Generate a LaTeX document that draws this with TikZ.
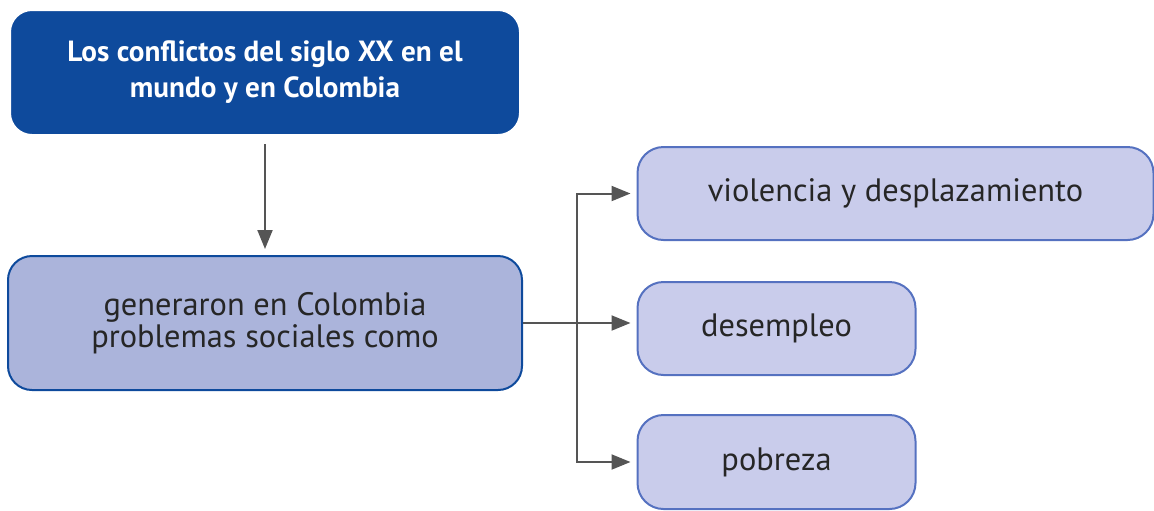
\documentclass[tikz,border=0pt]{standalone}
\usepackage{fontspec}
\setmainfont{PT Sans}
\usetikzlibrary{arrows.meta}

\definecolor{titleblue}{HTML}{0E4A9C}
\definecolor{midblue}{HTML}{ABB4DB}
\definecolor{lightblue}{HTML}{C9CCEB}
\definecolor{rimblue}{HTML}{5571C0}
\definecolor{linegray}{HTML}{555555}

\tikzset{
    titlebox/.style={draw=white,line width=1pt,fill=titleblue,rounded corners=11pt,
        text=white,font=\fontsize{14.6}{18}\selectfont\bfseries,align=center},
    mainbox/.style={draw=titleblue,line width=1pt,fill=midblue,rounded corners=12pt,
        text=black!85,font=\fontsize{16.2}{16}\selectfont,align=center},
    itembox/.style={draw=rimblue,line width=1pt,fill=lightblue,rounded corners=13pt,
        text=black!85,font=\fontsize{16.2}{18}\selectfont},
    link/.style={draw=linegray,line width=1pt,shorten >=3pt,
        -{Triangle[length=9.5pt,width=7.5pt]}}
}

\begin{document}
\begin{tikzpicture}[x=0.5pt,y=-0.5pt]
        \useasboundingbox (0,0) rectangle (1154,510);

        \node[titlebox,minimum width=255pt,minimum height=62.5pt] (T) at (265,72.5)
            {Los conflictos del siglo XX en el\\mundo y en Colombia};
        \node[mainbox,minimum width=257pt,minimum height=67pt] (G) at (265,323)
            {generaron en Colombia\\problemas sociales como};

        \node[itembox,minimum width=258pt,minimum height=46.5pt] (V) at (895.5,193.5)
            {violencia y desplazamiento};
        \node[itembox,minimum width=139pt,minimum height=46.5pt] (D) at (776.5,328.5)
            {desempleo};
        \node[itembox,minimum width=139pt,minimum height=47pt] (P) at (776.5,462)
            {pobreza};

        % branch point
        \coordinate (J) at (577,323);

        \draw[link,shorten <=4pt] (T.south) -- (G.north);
        \draw[link] (G.east) -- (G.east -| D.west);
        \draw[link] (J) |- (V.west);
        \draw[link] (J) |- (P.west);
    \end{tikzpicture}
\end{document}
